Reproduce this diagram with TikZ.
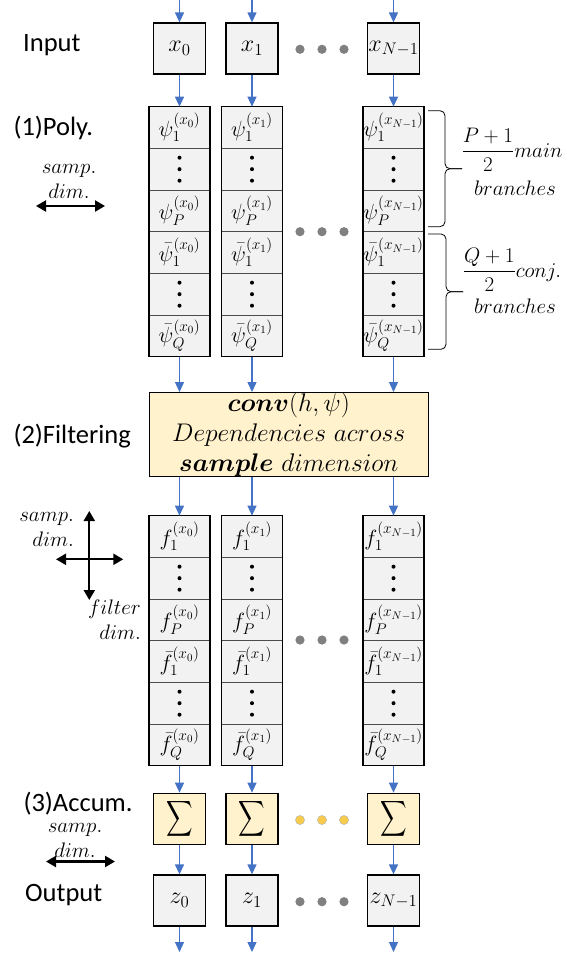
\RequirePackage{fix-cm}
\documentclass[tikz,border=0pt]{standalone}
\usepackage{amsmath}
\usepackage{graphicx}
\usepackage{fontspec}
\newfontfamily\calibri{Carlito}
\usepackage{tikz}
\usetikzlibrary{arrows.meta}
\usetikzlibrary{positioning}
\usetikzlibrary{calc}

\definecolor{boxgray}{HTML}{F2F2F2}
\definecolor{boxyellow}{HTML}{FFF2CC}
\definecolor{flowblue}{HTML}{4472C4}
\definecolor{dotgray}{HTML}{808080}
\definecolor{dotyellow}{HTML}{F8CB4D}

\begin{document}
\begin{tikzpicture}
  [
    x=1pt,y=-1pt,
    inbox/.style={
      draw,
      line width=1.3pt,
      fill=boxgray,
      minimum width=52pt,
      minimum height=51pt,
      inner sep=0pt,
      font=\fontsize{24}{28}\selectfont
    },
    sumbox/.style={
      inbox,
      fill=boxyellow
    },
    cell/.style={
      draw=black!70,
      line width=0.6pt,
      fill=boxgray,
      minimum width=61pt,
      minimum height=41.67pt,
      inner sep=0pt,
      outer sep=0pt,
      font=\fontsize{22}{26}\selectfont
    },
    column/.style={
      draw,
      line width=1.6pt
    },
    flow/.style={
      draw=flowblue,
      line width=1.3pt,
      -{Triangle[length=10pt,width=9pt]}
    },
    dimarrow/.style={
      line width=2.2pt,
      {Triangle[length=10pt,width=11pt]}-{Triangle[length=10pt,width=11pt]}
    },
    stage/.style={
      font=\calibri\fontsize{26.5}{30}\selectfont,
      anchor=base west,
      inner sep=0pt
    },
    dimtext/.style={
      font=\fontsize{21}{25}\selectfont,
      align=center,
      inner sep=0pt
    },
    bracket/.style={
      line width=0.8pt,
      rounded corners=5pt
    }
  ]
    \useasboundingbox (0,0) rectangle (577,954);
    % filtering box
    \node [draw, line width=1.3pt, fill=boxyellow, minimum width=279pt, minimum height=84pt,
           inner sep=0pt, align=center, font=\fontsize{25.5}{30}\selectfont]
          (filt) at (288.7,434.7)
          {$\boldsymbol{conv}(h,\psi)$\\$Dependencies\ across$\\$\boldsymbol{sample}\ dimension$};
    % one column per sample
    \foreach \c/\xc/\i in {0/179.5/0, 1/252/1, N/393.5/N-1}
    {
      \coordinate (top\c) at (\xc,0);
      \coordinate (bot\c) at (\xc,952);
      \node [inbox] (in\c) at (\xc,48.5) {$x_{\i}$};
      % polynomial branches
      \node [cell] (p\c-1) at (\xc,127.5) {$\psi_1^{(x_{\i})}$};
      \node [cell, below=0pt of p\c-1] (p\c-2) {};
      \node [cell, below=0pt of p\c-2] (p\c-3) {$\psi_P^{(x_{\i})}$};
      \node [cell, below=0pt of p\c-3] (p\c-4) {$\bar{\psi}_1^{(x_{\i})}$};
      \node [cell, below=0pt of p\c-4] (p\c-5) {};
      \node [cell, below=0pt of p\c-5] (p\c-6) {$\bar{\psi}_Q^{(x_{\i})}$};
      \draw [column] (p\c-1.north west) rectangle (p\c-6.south east);
      % filtered branches
      \node [cell] (f\c-1) at (\xc,536.5) {$f_1^{(x_{\i})}$};
      \node [cell, below=0pt of f\c-1] (f\c-2) {};
      \node [cell, below=0pt of f\c-2] (f\c-3) {$f_P^{(x_{\i})}$};
      \node [cell, below=0pt of f\c-3] (f\c-4) {$\bar{f}_1^{(x_{\i})}$};
      \node [cell, below=0pt of f\c-4] (f\c-5) {};
      \node [cell, below=0pt of f\c-5] (f\c-6) {$\bar{f}_Q^{(x_{\i})}$};
      \draw [column] (f\c-1.north west) rectangle (f\c-6.south east);
      % vertical dots
      \foreach \r in {p\c-2,p\c-5,f\c-2,f\c-5}
        \foreach \d in {-11.5,0,11.5}
          \fill ([yshift=\d pt]\r.center) circle (2pt);
      % accumulation and output
      \node [sumbox, font=\fontsize{23}{27}\selectfont] (s\c) at (\xc,818.8) {\scalebox{0.74}[1]{$\displaystyle\sum$}};
      \node [inbox] (o\c) at (\xc,900.5) {$z_{\i}$};
      % flow
      \draw [flow] (top\c) -- (in\c);
      \draw [flow] (in\c) -- (p\c-1);
      \draw [flow] (p\c-6) -- (p\c-6 |- filt.north);
      \draw [flow] (filt.south -| f\c-1) -- (f\c-1);
      \draw [flow] (f\c-6) -- (s\c);
      \draw [flow] (s\c) -- (o\c);
      \draw [flow] (o\c) -- (bot\c);
    }
    % horizontal dots
    \foreach \yy in {49.3,231.7,640,901.7}
      \foreach \xx in {300,322,344}
        \fill [dotgray] (\xx,\yy) circle (4.6pt);
    \foreach \xx in {300,322,344}
      \filldraw [fill=dotyellow, draw=black!30, line width=0.4pt] (\xx,820) circle (4.6pt);
    % braces
    \draw [bracket] (428,110.7) -- (445,110.7) -- (445,168.7) -- (462,168.7);
    \draw [bracket] (462,168.7) -- (445,168.7) -- (445,226.7) -- (428,226.7);
    \draw [bracket] (428,234) -- (446,234) -- (446,291.7) -- (463,291.7);
    \draw [bracket] (463,291.7) -- (446,291.7) -- (446,349.3) -- (428,349.3);
    \node [dimtext] (mainfrac) at (512,150) {$\dfrac{P+1}{2}main$};
    \node [dimtext] (mainbr) at (515,188) {$branches$};
    \node [dimtext] (conjfrac) at (512,270) {$\dfrac{Q+1}{2}conj.$};
    \node [dimtext] (conjbr) at (515,306.7) {$branches$};
    % stage labels
    \node [stage] (lin) at (23,51.7) {Input};
    \node [stage] (lpoly) at (13.3,135) {(1)Poly.};
    \node [stage] (lfilt) at (13.3,443) {(2)Filtering};
    \node [stage] (lacc) at (23.3,811) {(3)Accum.};
    \node [stage] (lout) at (25,901.5) {Output};
    % dimension arrows
    \node [dimtext] (polydim) at (69,181) {$samp.$\\$dim.$};
    \coordinate (pa1) at (36,206);
    \coordinate (pa2) at (105,206);
    \draw [dimarrow] (pa1) -- (pa2);
    \node [dimtext, align=right, anchor=east] (filtdim) at (74,529) {$samp.$\\$dim.$};
    \node [dimtext, align=right, anchor=east] (filterdim) at (141,620) {$filter$\\$dim.$};
    \coordinate (ca1) at (89.3,511);
    \coordinate (ca2) at (89.3,600);
    \coordinate (ca3) at (56,559.3);
    \coordinate (ca4) at (123.3,559.3);
    \draw [dimarrow] (ca1) -- (ca2);
    \draw [dimarrow] (ca3) -- (ca4);
    \node [dimtext] (accdim) at (75,840) {$samp.$\\$dim.$};
    \coordinate (aa1) at (46,861.5);
    \coordinate (aa2) at (115,861.5);
    \draw [dimarrow] (aa1) -- (aa2);
  \end{tikzpicture}
\end{document}
